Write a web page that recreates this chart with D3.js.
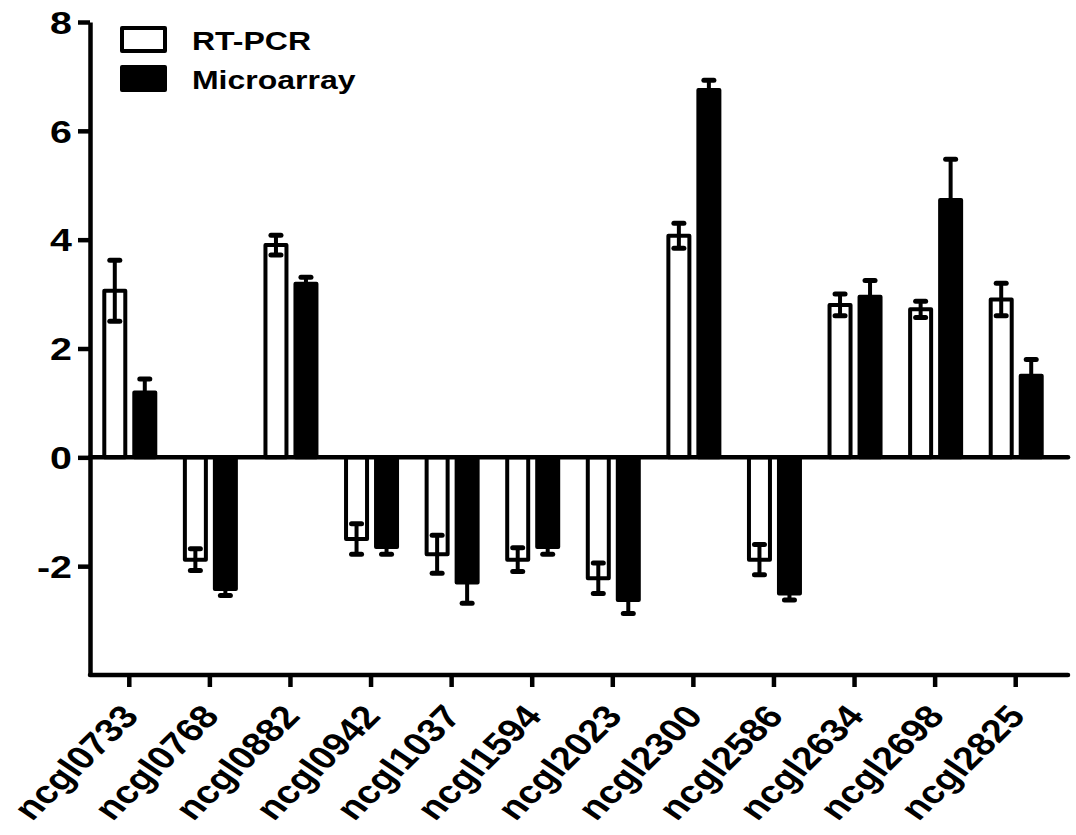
<!doctype html>
<html lang="en">
  <head>
    <meta charset="UTF-8" />
    <title>RT-PCR vs Microarray</title>
    <script src="https://d3js.org/d3.v7.min.js"></script>
    <style>
      body {
        margin: 0;
        padding: 0;
        background-color: #ffffff;
      }

      svg text {
        font-family: 'Liberation Sans', Arial, sans-serif;
        font-weight: bold;
        fill: #000000;
      }
    </style>
  </head>
  <body>
    <div id="chart"></div>

    <script>
      // Genes on the x axis
      const genes = [
        'ncgl0733', 'ncgl0768', 'ncgl0882', 'ncgl0942', 'ncgl1037', 'ncgl1594',
        'ncgl2023', 'ncgl2300', 'ncgl2586', 'ncgl2634', 'ncgl2698', 'ncgl2825',
      ]

      const series = ['RT-PCR', 'Microarray']

      // Fold change values and error (SD)
      const rtpcr = [3.06, -1.88, 3.9, -1.5, -1.78, -1.88, -2.22, 4.07, -1.88, 2.8, 2.72, 2.9]
      const rtpcrErr = [0.56, 0.2, 0.18, 0.28, 0.35, 0.22, 0.28, 0.23, 0.28, 0.2, 0.15, 0.3]
      const microarray = [1.19, -2.42, 3.19, -1.65, -2.3, -1.65, -2.62, 6.75, -2.5, 2.95, 4.73, 1.5]
      const microarrayErr = [0.25, 0.12, 0.12, 0.13, 0.38, 0.13, 0.25, 0.18, 0.12, 0.3, 0.75, 0.3]

      const yTicks = [-2, 0, 2, 4, 6, 8]

      const width = 1076
      const height = 835
      const sx = 1.23 // the source figure is stretched horizontally

      const svg = d3
        .select('#chart')
        .append('svg')
        .attr('width', width)
        .attr('height', height)

      const x = d3.scaleBand().domain(genes).range([89, 1056])
      const inner = d3
        .scaleBand()
        .domain(series)
        .range([x.bandwidth() / 2 - 27, x.bandwidth() / 2 + 28])
        .paddingInner(1 / 6)
      const y = d3.scaleLinear().domain([-4, 8]).range([675, 22])

      const rows = []
      genes.forEach((g, i) => {
        rows.push({ gene: g, s: 'RT-PCR', v: rtpcr[i], e: rtpcrErr[i] })
        rows.push({ gene: g, s: 'Microarray', v: microarray[i], e: microarrayErr[i] })
      })

      const sw = 4

      // Bars
      svg
        .selectAll('.bar')
        .data(rows)
        .enter()
        .append('rect')
        .attr('class', 'bar')
        .attr('x', (d) => x(d.gene) + inner(d.s) + sw / 2)
        .attr('width', inner.bandwidth() - sw)
        .attr('y', (d) => y(Math.max(0, d.v)))
        .attr('height', (d) => Math.abs(y(d.v) - y(0)))
        .attr('fill', (d) => (d.s === 'RT-PCR' ? '#ffffff' : '#000000'))
        .attr('stroke', '#000000')
        .attr('stroke-width', sw)
        .attr('stroke-linejoin', 'round')

      // Error bars (both directions)
      const err = svg
        .selectAll('.err')
        .data(rows)
        .enter()
        .append('g')
        .attr('class', 'err')
        .attr('transform', (d) => `translate(${x(d.gene) + inner(d.s) + inner.bandwidth() / 2}, 0)`)

      err
        .append('line')
        .attr('y1', (d) => y(d.v - d.e))
        .attr('y2', (d) => y(d.v + d.e))
        .attr('stroke', '#000000')
        .attr('stroke-width', 4)

      err
        .selectAll('.cap')
        .data((d) => [d.v - d.e, d.v + d.e])
        .enter()
        .append('line')
        .attr('class', 'cap')
        .attr('x1', -5)
        .attr('x2', 5)
        .attr('y1', (v) => y(v))
        .attr('y2', (v) => y(v))
        .attr('stroke', '#000000')
        .attr('stroke-width', 5)
        .attr('stroke-linecap', 'round')

      // Y axis
      const yAxis = svg
        .append('g')
        .attr('transform', 'translate(90, 0)')
        .call(
          d3
            .axisLeft(y)
            .tickValues(yTicks)
            .tickSize(12)
            .tickSizeOuter(0)
            .tickFormat((d) => String(d))
        )

      yAxis.selectAll('path, line').attr('stroke', '#000000').attr('stroke-width', 4.5)
      yAxis.select('.domain').attr('stroke-linejoin', 'round')
      yAxis
        .selectAll('.tick text')
        .attr('x', null)
        .attr('dy', '0.35em')
        .attr('font-size', 32)
        .attr('transform', `translate(-18, 0) scale(${sx}, 1)`)
        .attr('text-anchor', 'end')

      // X axis at the bottom
      const xAxis = svg
        .append('g')
        .attr('transform', `translate(0, ${y(-4)})`)
        .call(d3.axisBottom(x).tickSize(12).tickSizeOuter(0))

      xAxis.select('.domain').attr('d', 'M90,0H1068')
      xAxis.selectAll('path, line').attr('stroke', '#000000').attr('stroke-width', 4.5)
      xAxis.select('.domain').attr('stroke-linecap', 'round')
      xAxis
        .selectAll('.tick text')
        .attr('y', null)
        .attr('dy', null)
        .attr('font-size', 32)
        .attr('text-anchor', 'end')
        .attr('transform', `translate(11, 42) scale(${sx}, 1) rotate(-50)`)

      // Zero line
      svg
        .append('line')
        .attr('x1', 90)
        .attr('x2', 1068)
        .attr('y1', y(0))
        .attr('y2', y(0))
        .attr('stroke', '#000000')
        .attr('stroke-width', 4.5)
        .attr('stroke-linecap', 'round')

      // Legend
      const legend = svg
        .selectAll('.legend')
        .data(series)
        .enter()
        .append('g')
        .attr('class', 'legend')
        .attr('transform', (d, i) => `translate(120, ${26 + i * 39})`)

      legend
        .append('rect')
        .attr('x', 2)
        .attr('y', 2)
        .attr('width', 43)
        .attr('height', 23)
        .attr('fill', (d) => (d === 'RT-PCR' ? '#ffffff' : '#000000'))
        .attr('stroke', '#000000')
        .attr('stroke-width', 4)
        .attr('stroke-linejoin', 'round')

      legend
        .append('text')
        .attr('font-size', 26)
        .attr('transform', `translate(72, 24) scale(${sx}, 1)`)
        .text((d) => d)
    </script>
  </body>
</html>
